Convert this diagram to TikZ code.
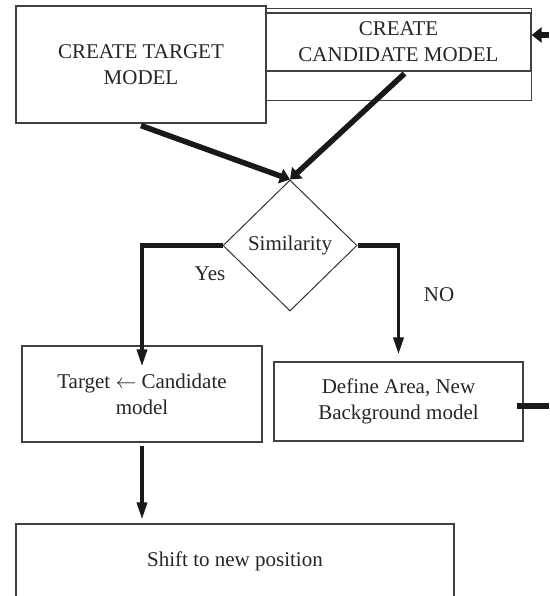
\documentclass[tikz,border=0pt]{standalone}
\usepackage{fontspec}
\setmainfont{Liberation Serif}
\usetikzlibrary{arrows.meta,shapes.geometric}
\begin{document}
\begin{tikzpicture}[x=1pt,y=-1pt,
  every node/.style={font=\fontsize{21}{26}\selectfont,align=center,text=black!85},
  box/.style={draw=black!75,line width=1.2pt,inner sep=0pt},
  decision/.style={diamond,draw=black!80,line width=1pt,inner sep=0pt,aspect=1,minimum width=134pt,minimum height=131pt},
  fat/.style={line width=5.5pt,black!90},
  fatarrow/.style={fat,-{Triangle[length=10pt,width=15pt]}},
  downarrow/.style={line width=3.5pt,black!90,-{Triangle[length=17pt,width=10pt]}}]
\useasboundingbox (0,0) rectangle (549,596);
\fill[white] (0,0) rectangle (549,596);
\node[box,minimum width=250pt,minimum height=117pt] (target) at (141,64.5) {CREATE TARGET\\MODEL};
\node[box,minimum width=265pt,minimum height=58pt] (cand) at (398.5,42) {CREATE\\CANDIDATE MODEL};
\draw[box] (cand.south west) rectangle ([yshift=-29pt]cand.south east);
\draw[box] (cand.north west) -- ++(0,-4) -| (cand.north east);
\node[decision] (sim) at (290,245.5) {Similarity};
\node[box,minimum width=240pt,minimum height=96pt] (upd) at (142,394) {Target $\leftarrow$ Candidate\\model};
\node[box,minimum width=249pt,minimum height=79pt] (def) at (398.5,401.5) {Define Area, New\\Background model};
\node[box,minimum width=438pt,minimum height=74pt] (shift) at (235,561) {Shift to new position};
\node (yes) at (210,274) {Yes};
\node (no) at (439,295) {NO};
\coordinate (loopin) at (549,35);
\coordinate (loopout) at (549,406);
\coordinate (yescorner) at (sim.west -| upd.north);
\coordinate (nocorner) at (sim.east -| def.north);
\coordinate (shifttop) at (upd.south |- shift.north);
\coordinate (stub) at (def.east |- loopout);
\draw[fatarrow] ([yshift=-2pt]target.south) -- (sim.north);
\draw[fatarrow] ([shift={(6pt,-2pt)}]cand.south) -- (sim.north);
\draw[fatarrow] (loopin) -- (loopin -| cand.east);
\draw[fat] (sim.west) -- ([xshift=-1.75pt]yescorner);
\draw[downarrow] ([yshift=2.75pt]yescorner) -- ([yshift=-21pt]upd.north);
\draw[fat] (sim.east) -- ([xshift=1.75pt]nocorner);
\draw[downarrow] ([yshift=2.75pt]nocorner) -- ([yshift=7pt]def.north);
\draw[downarrow] ([yshift=-3pt]upd.south) -- ([yshift=4pt]shifttop);
\draw[fat,line width=6pt] ([xshift=-7pt]stub) -- (loopout);
\end{tikzpicture}
\end{document}
